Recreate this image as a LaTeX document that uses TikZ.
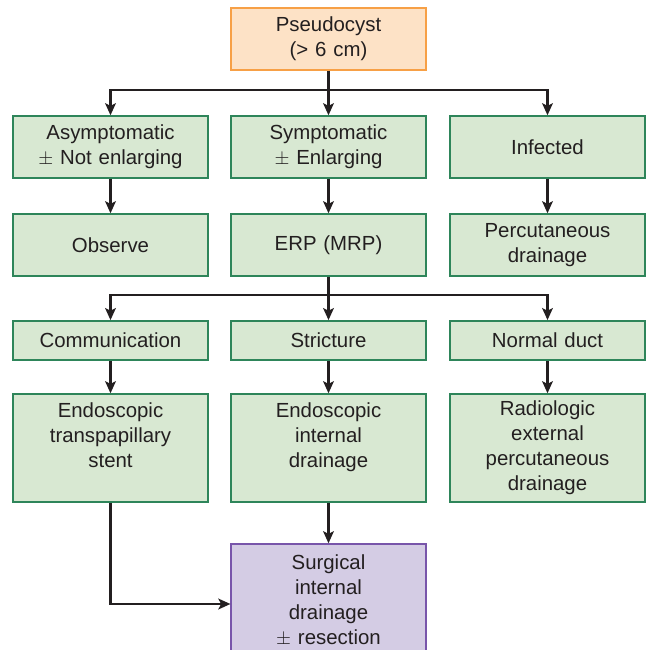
\documentclass[tikz,border=0pt]{standalone}
\usepackage{fontspec}
\setmainfont{Liberation Sans}
\usetikzlibrary{arrows.meta,calc}
\definecolor{gfill}{RGB}{216,232,210}
\definecolor{gdraw}{RGB}{46,133,90}
\definecolor{ofill}{RGB}{253,226,198}
\definecolor{odraw}{RGB}{247,160,70}
\definecolor{pfill}{RGB}{212,204,228}
\definecolor{pdraw}{RGB}{120,85,170}
\definecolor{ink}{RGB}{35,31,32}
\tikzset{
  box/.style={rectangle, draw=gdraw, fill=gfill, line width=1.1pt, inner sep=0pt,
    minimum width=146pt, text width=140pt, align=center, text=ink,
    font=\fontsize{15.3}{18.75}\selectfont},
  obox/.style={box, draw=odraw, fill=ofill},
  pbox/.style={box, draw=pdraw, fill=pfill},
  conn/.style={draw=ink, line width=2.2pt},
  arr/.style={conn, -{Stealth[length=9pt,width=8pt,inset=2pt]}}
}
\begin{document}
\begin{tikzpicture}[x=0.75pt,y=-0.75pt]
\useasboundingbox (0,0) rectangle (650,650);
\clip (0,0) rectangle (650,650);
\fill[white] (0,0) rectangle (650,650);
% nodes
\node[obox, minimum height=46.5pt] (pseudo) at (328.5,39) {Pseudocyst\\(> 6 cm)};
\node[box, minimum height=46.5pt] (asym) at (110.5,147) {Asymptomatic\\$\pm$ Not enlarging};
\node[box, minimum height=46.5pt] (sympt) at (328.5,147) {Symptomatic\\$\pm$ Enlarging};
\node[box, minimum height=46.5pt] (inf) at (547.5,147) {Infected};
\node[box, minimum height=46.5pt] (obs) at (110.5,245) {Observe};
\node[box, minimum height=46.5pt] (erp) at (328.5,245) {ERP (MRP)};
\node[box, minimum height=46.5pt] (perc) at (547.5,245) {Percutaneous\\drainage};
\node[box, minimum height=29.5pt] (comm) at (110.5,340.5) {Communication};
\node[box, minimum height=29.5pt] (strict) at (328.5,340.5) {Stricture};
\node[box, minimum height=29.5pt] (normal) at (547.5,340.5) {Normal duct};
\node[box, minimum height=81pt] (stent) at (110.5,448) {Endoscopic\\transpapillary\\stent\\\mbox{}};
\node[box, minimum height=81pt] (eid) at (328.5,448) {Endoscopic\\internal\\drainage\\\mbox{}};
\node[box, minimum height=81pt] (rad) at (547.5,448) {Radiologic\\external\\percutaneous\\drainage};
\node[pbox, minimum height=84pt] (surg) at (328.5,600) {Surgical\\internal\\drainage\\$\pm$ resection};
% connectors
\coordinate (j1) at (328.5,90);
\coordinate (j2) at (328.5,295);
\draw[conn] (pseudo.south) -- (j1);
\draw[arr] (j1) -| (asym.north);
\draw[arr] (j1) -- (sympt.north);
\draw[arr] (j1) -| (inf.north);
\draw[arr] (asym) -- (obs);
\draw[arr] (sympt) -- (erp);
\draw[arr] (inf) -- (perc);
\draw[conn] (erp.south) -- (j2);
\draw[arr] (j2) -| (comm.north);
\draw[arr] (j2) -- (strict.north);
\draw[arr] (j2) -| (normal.north);
\draw[arr] (comm) -- (stent);
\draw[arr] (strict) -- (eid);
\draw[arr] (normal) -- (rad);
\draw[arr] (eid) -- (surg);
\draw[arr] (stent.south) |- ([yshift=-3pt]surg.west);
\end{tikzpicture}
\end{document}
